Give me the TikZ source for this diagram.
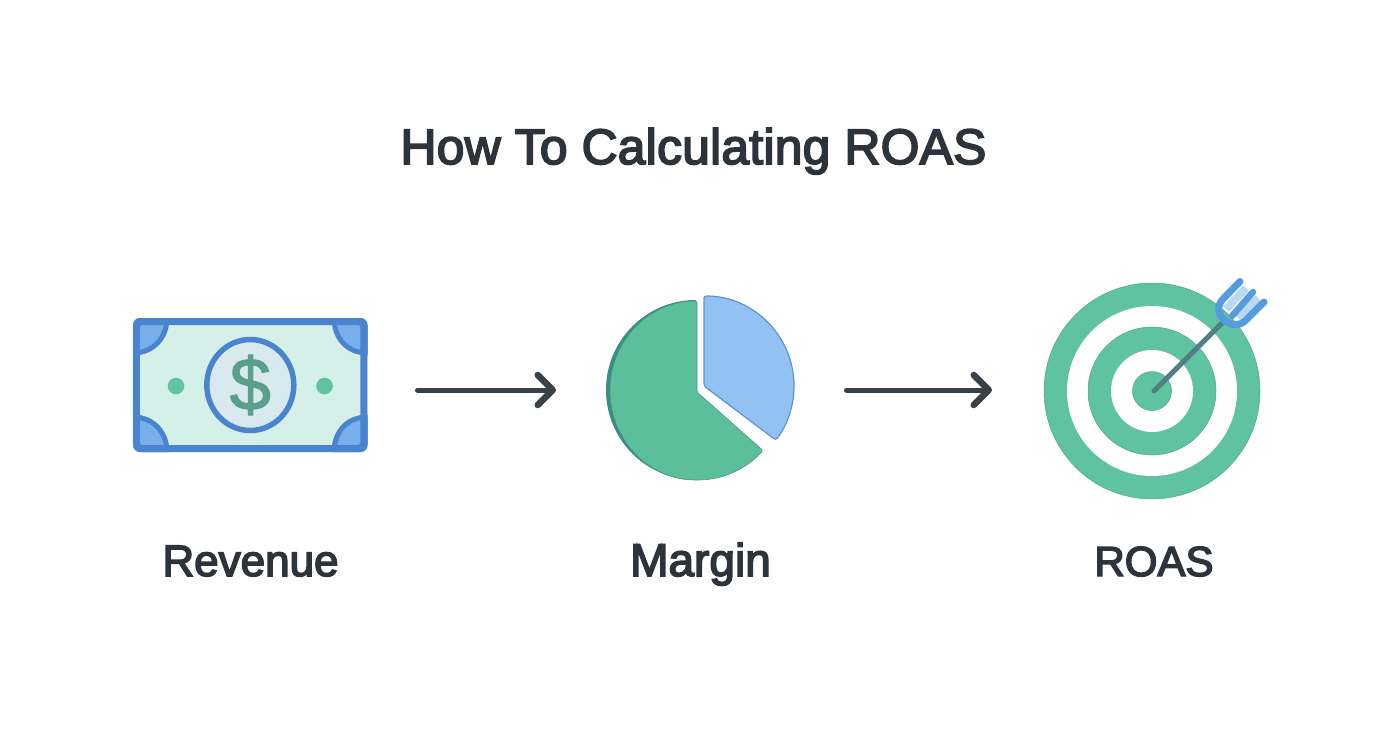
\documentclass[tikz,border=0pt]{standalone}
\usepackage{fontspec}
\setmainfont{Liberation Sans}
\newfontfamily\semifont{Liberation Sans}[FakeBold=3.5]
\newfontfamily\titlefont{Liberation Sans}[FakeBold=3.5,LetterSpace=0.5]
\newfontfamily\dollarfont{Liberation Sans}[FakeBold=1.5]
\usetikzlibrary{arrows.meta,shapes.geometric}
\definecolor{ink}{HTML}{2D333A}
\definecolor{arrowc}{HTML}{3A4047}
\definecolor{billblue}{HTML}{4A84CE}
\definecolor{cornerblue}{HTML}{78AEEA}
\definecolor{billbg}{HTML}{D5F0E8}
\definecolor{coin}{HTML}{D8EAEF}
\definecolor{dollar}{HTML}{5A9E8C}
\definecolor{mint}{HTML}{5FC3A2}
\definecolor{piegreen}{HTML}{5CBF9C}
\definecolor{piedark}{HTML}{3A8C8A}
\definecolor{pieblue}{HTML}{92C2F3}
\definecolor{pieblueedge}{HTML}{5F93CF}
\definecolor{shaft}{HTML}{4F8184}
\definecolor{fletch}{HTML}{559BE0}
\definecolor{fletchlight}{HTML}{BBD9F2}
\tikzset{
  x=1pt,y=-1pt,
  flow/.style={draw=arrowc,line width=5pt,line cap=round,-{Straight Barb[length=15pt,width=30pt,round,line width=6.5pt]}},
  lbl/.style={text=ink,inner sep=0pt,anchor=base},
  ring/.style={fill=mint,draw=mint!85!black,line width=.5pt},
  cornerpatch/.style={fill=cornerblue,draw=billblue,line width=5pt},
}
\begin{document}
\begin{tikzpicture}
\useasboundingbox[fill=white] (0,0) rectangle (1392,752);
\node[lbl,font=\titlefont\fontsize{49.8}{52}\selectfont] (title) at (693.5,164) {How To Calculating ROAS};
% bill
\begin{scope}
\clip[rounded corners=7pt] (133,318) rectangle (367.5,452);
\fill[billbg] (133,318) rectangle (367.5,452);
\draw[cornerpatch] (133,318) -- (167,318) .. controls (167,338) and (153,353) .. (133,353) -- cycle;
\draw[cornerpatch] (367.5,318) -- (334,318) .. controls (334,338) and (347,353) .. (367.5,353) -- cycle;
\draw[cornerpatch] (133,452) -- (167,452) .. controls (167,432) and (153,417) .. (133,417) -- cycle;
\draw[cornerpatch] (367.5,452) -- (334,452) .. controls (334,432) and (347,417) .. (367.5,417) -- cycle;
\end{scope}
\node[draw=billblue,line width=7pt,rounded corners=6pt,minimum width=227.5pt,minimum height=127pt,inner sep=0pt] (bill) at (250.2,385) {};
\node[ellipse,draw=billblue,line width=5.5pt,fill=coin,minimum width=87pt,minimum height=91pt,inner sep=0pt] (coinnode) at (250.3,385) {};
\node[font=\dollarfont\fontsize{74}{74}\selectfont,text=dollar,inner sep=0pt] (dollarsign) at (250.3,385) {\$};
\fill[mint] (176,386) circle[radius=8.3];
\fill[mint] (324.5,386) circle[radius=8.3];
% pie
\fill[piedark] (696,300) arc[start angle=270,end angle=90,radius=90] -- cycle;
\fill[piegreen,draw=piegreen!80!black,line width=.6pt,rounded corners=1.5pt] (697,392) -- (697,301)
  arc[start angle=270,end angle=90,x radius=87,y radius=89.5]
  arc[start angle=90,end angle=41.8,radius=88.5] -- cycle;
\fill[pieblue,draw=pieblueedge,line width=1.2pt,rounded corners=2.5pt] (704,386) -- (704,296)
  arc[start angle=270,end angle=397,radius=90] -- cycle;
% target
\path[ring] (1152,391) circle[radius=108];
\fill[white] (1152,391) circle[radius=85];
\path[ring] (1152,391) circle[radius=64];
\fill[white] (1152,391) circle[radius=41];
\path[ring] (1152,391) circle[radius=19.5];
\draw[shaft,line width=5pt,line cap=round] (1154,391) -- (1224,321);
\draw[fletchlight,line width=8pt] (1246,288) -- (1226,309);
\draw[fletchlight,line width=8pt] (1258,298) -- (1238,318);
\draw[fletch,line width=7pt,line cap=round,line join=round]
  (1240,281.5) -- (1222,300) .. controls (1216,308) and (1219,314) .. (1223,319)
  .. controls (1229,325) and (1238,327) .. (1245,321) -- (1264,302);
\draw[fletch,line width=6.5pt,line cap=round] (1232,316) -- (1253,292);
% arrows
\coordinate (a1s) at (417.5,390);
\coordinate (a1e) at (556,390);
\coordinate (a2s) at (846.5,390);
\coordinate (a2e) at (992,390);
\draw[flow] (a1s) -- (a1e);
\draw[flow] (a2s) -- (a2e);
% labels
\node[lbl,font=\semifont\fontsize{44}{48}\selectfont] (revenue) at (250.5,576) {Revenue};
\node[lbl,font=\semifont\fontsize{46}{48}\selectfont] (margin) at (700.5,576) {Margin};
\node[lbl,font=\semifont\fontsize{42}{48}\selectfont] (roas) at (1154,576) {ROAS};
\end{tikzpicture}
\end{document}
